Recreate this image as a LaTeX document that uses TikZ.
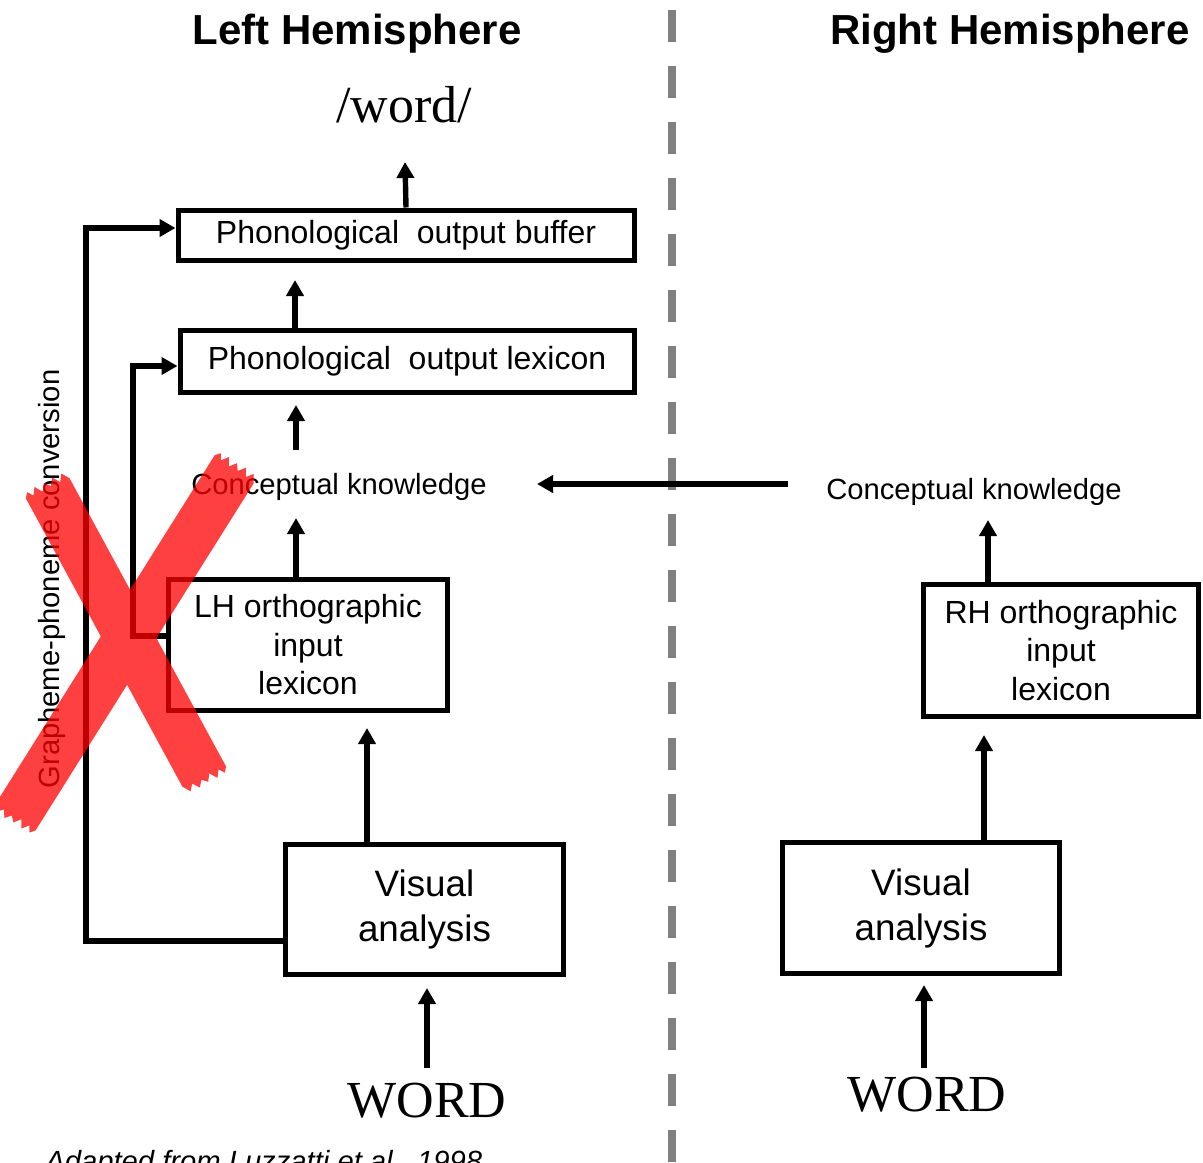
\documentclass[tikz,border=0pt]{standalone}
\usepackage{fontspec}
\setmainfont{Liberation Sans}
\newfontfamily\wordfont{Liberation Serif}
\usepackage{xcolor}
\usepackage{tikz}
\usetikzlibrary{
  arrows.meta,
  positioning,
  calc,
}
\definecolor{dividerGray}{HTML}{808080}
\definecolor{crossRed}{HTML}{FF0000}
\tikzset{
  procbox/.style={
    rectangle, draw=black, line width=2.5pt, inner sep=0pt,
    align=center, font=\fontsize{16}{19.25}\selectfont,
  },
  visbox/.style={
    procbox, font=\fontsize{18.4}{22.5}\selectfont,
  },
  hemiTitle/.style={
    inner sep=0pt, anchor=base, font=\fontsize{21}{25}\selectfont\bfseries,
  },
  plainLabel/.style={
    inner sep=0pt, anchor=base, font=\fontsize{14.6}{17}\selectfont,
  },
  serifLabel/.style={
    inner sep=0pt, anchor=base, font=\fontsize{26}{30}\selectfont\wordfont,
  },
  arrowStd/.style={
    -{Triangle[length=8pt,width=8.5pt]}, line width=2.7pt, draw=black,
  },
  dividerLine/.style={
    line width=4pt, draw=dividerGray, dash pattern=on 16pt off 12pt,
  },
  inkStroke/.style={
    fill=crossRed, draw=none,
  },
}
% one brush stroke of the cross, length #1 (local units)
\newcommand{\brushStroke}[1]{%
  \fill[inkStroke] (3,24) -- (-5,19) -- (2,14) -- (-6,9) -- (1,4) -- (-5,-1)
    -- (2,-6) -- (-6,-11) -- (1,-16) -- (-5,-20) -- (0,-24)
    -- (#1-3,-24) -- (#1+5,-19) -- (#1-1,-14) -- (#1+6,-9) -- (#1,-4)
    -- (#1+5,1) -- (#1-2,6) -- (#1+6,11) -- (#1-1,16) -- (#1+5,20)
    -- (#1,24) -- cycle;%
}

\begin{document}
\begin{tikzpicture}[x=0.5pt, y=-0.5pt]
\useasboundingbox (0,0) rectangle (1203,1162);

% Titles and divider
\node[hemiTitle] (leftTitle)  at (357,44) {Left Hemisphere};
\node[hemiTitle] (rightTitle) at (1010,44) {Right Hemisphere};
\coordinate (divTop) at (672,10);
\coordinate (divBot) at (672,1175);
\draw[dividerLine] (divTop) -- (divBot);

% Left hemisphere route
\node[serifLabel] (phonWord) at (404,122) {/word/};
\node[procbox, minimum width=228pt, minimum height=25pt] (pob) at (406,235)
  {Phonological\ \ output buffer};
\node[procbox, minimum width=227pt, minimum height=31pt] (pol) at (407,361)
  {Phonological\ \ output lexicon};
\node[plainLabel] (ckLeft) at (339,494) {Conceptual knowledge};
\node[procbox, minimum width=139.5pt, minimum height=65.5pt] (lhLex) at (308,645)
  {LH orthographic\\input\\lexicon};
\node[visbox, minimum width=139pt, minimum height=65pt] (vaLeft) at (424.5,909.5)
  {Visual\\analysis};
\node[serifLabel] (wordLeft) at (427,1117) {WORD};
\node[plainLabel, anchor=center, rotate=90] (gpc) at (52,579)
  {Grapheme-phoneme conversion};
\node[plainLabel, anchor=base west, font=\fontsize{14.6}{17}\selectfont\itshape]
  (source) at (45,1171) {Adapted from Luzzatti et al., 1998};

% Right hemisphere route
\node[plainLabel] (ckRight) at (974,499) {Conceptual knowledge};
\node[procbox, minimum width=137.5pt, minimum height=66pt] (rhLex) at (1061,650.5)
  {RH orthographic\\input\\lexicon};
\node[visbox, minimum width=138.5pt, minimum height=65.5pt] (vaRight) at (921,908)
  {Visual\\analysis};
\node[serifLabel] (wordRight) at (927,1111) {WORD};

% Flow arrows (left)
\coordinate (pobTip) at (405,162);
\draw[arrowStd] (pob.north) -- (pobTip);
\coordinate (polTip) at (295,280);
\draw[arrowStd] (pol.north -| polTip) -- (polTip);
\coordinate (ckOut) at (296,450);
\coordinate (ckTip) at (296,405);
\draw[arrowStd] (ckOut) -- (ckTip);
\coordinate (lhTip) at (296,518);
\draw[arrowStd] (lhLex.north -| lhTip) -- (lhTip);
\coordinate (vaTip) at (367,728);
\draw[arrowStd] (vaLeft.north -| vaTip) -- (vaTip);
\coordinate (wordOut) at (427,1068);
\coordinate (wordTip) at (427,988);
\draw[arrowStd] (wordOut) -- (wordTip);

% grapheme-phoneme route (outer) and lexical shortcut (inner)
\coordinate (gpcLow)  at (86,941);
\coordinate (gpcHigh) at (86,228);
\draw[arrowStd] (gpcLow -| vaLeft.west) -- (gpcLow) -- (gpcHigh)
  -- (gpcHigh -| pob.west);
\coordinate (lexLow)  at (133,636);
\coordinate (lexHigh) at (133,366);
\draw[arrowStd] (lexLow -| lhLex.west) -- (lexLow) -- (lexHigh)
  -- (lexHigh -| pol.west);

% Flow arrows (right)
\coordinate (crossOut) at (788,484);
\coordinate (crossTip) at (537,484);
\draw[arrowStd] (crossOut) -- (crossTip);
\coordinate (rhTip) at (988,520);
\draw[arrowStd] (rhLex.north -| rhTip) -- (rhTip);
\coordinate (vaRTip) at (984,735);
\draw[arrowStd] (vaRight.north -| vaRTip) -- (vaRTip);
\coordinate (wordROut) at (924,1068);
\coordinate (wordRTip) at (924,985);
\draw[arrowStd] (wordROut) -- (wordRTip);

% Red cross over the sublexical route
\begin{scope}[transparency group, opacity=0.75]
  \begin{scope}[shift={(47,487)}, rotate=-61.5, x=0.5pt, y=0.5pt]
    \brushStroke{331}
  \end{scope}
  \begin{scope}[shift={(235,468)}, rotate=-122.15, x=0.5pt, y=0.5pt]
    \brushStroke{413}
  \end{scope}
\end{scope}

\end{tikzpicture}
\end{document}
